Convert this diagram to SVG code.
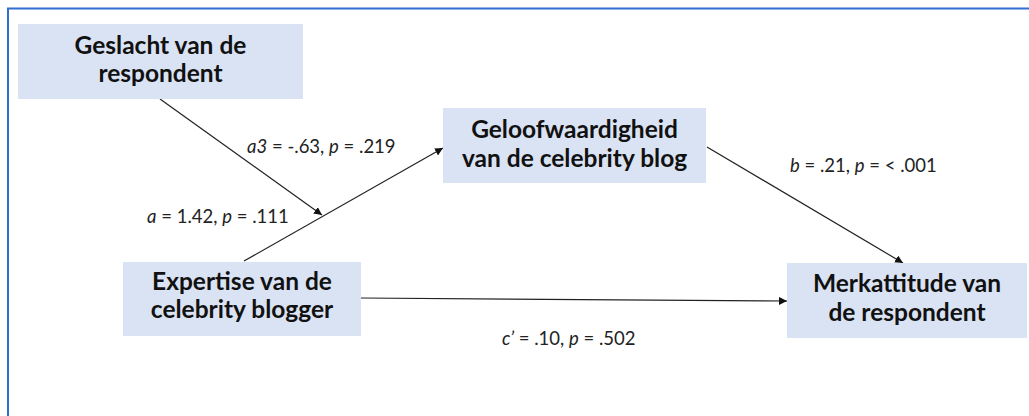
<svg xmlns="http://www.w3.org/2000/svg" width="1029" height="416" viewBox="0 0 1029 416">
<style>
.box{fill:#dae3f3}
.t{font-family:Lato,"Liberation Sans",sans-serif;font-weight:bold;font-size:24.5px;fill:#111;text-anchor:middle}
.l{font-family:Lato,"Liberation Sans",sans-serif;font-size:18.5px;fill:#222}
.i{font-style:italic}
.c{stroke:#222;stroke-width:1.2;fill:none;marker-end:url(#ah)}
</style>
<defs>
<marker id="ah" viewBox="0 0 10 10" refX="10" refY="5" markerWidth="8" markerHeight="8" markerUnits="userSpaceOnUse" orient="auto">
<path d="M0,0 L10,5 L0,10 z" fill="#111"/>
</marker>
</defs>
<rect width="1029" height="416" fill="#fff"/>
<path d="M8,416 V8.5 H1029" fill="none" stroke="#2f6fd0" stroke-width="2"/>
<g id="connectors">
<line class="c" x1="160" y1="99" x2="322" y2="215"/>
<line class="c" x1="244" y1="261" x2="443" y2="148"/>
<line class="c" x1="707" y1="147" x2="903" y2="263"/>
<line class="c" x1="361" y1="298" x2="787" y2="301"/>
</g>
<g id="geslacht">
<rect class="box" x="18" y="24" width="285" height="75"/>
<text class="t" x="160.5" y="54">Geslacht van de</text>
<text class="t" x="160.5" y="82">respondent</text>
</g>
<g id="geloofwaardigheid">
<rect class="box" x="443" y="108" width="263" height="75"/>
<text class="t" x="574.5" y="138">Geloofwaardigheid</text>
<text class="t" x="574.5" y="167">van de celebrity blog</text>
</g>
<g id="expertise">
<rect class="box" x="123" y="262" width="238" height="74"/>
<text class="t" x="242" y="290">Expertise van de</text>
<text class="t" x="242" y="318">celebrity blogger</text>
</g>
<g id="merkattitude">
<rect class="box" x="787" y="263" width="240" height="75"/>
<text class="t" x="907" y="292">Merkattitude van</text>
<text class="t" x="907" y="321">de respondent</text>
</g>
<g id="labels">
<text class="l" x="247" y="153"><tspan class="i">a3</tspan> = -.63, <tspan class="i">p</tspan> = .219</text>
<text class="l" x="147" y="223"><tspan class="i">a</tspan> = 1.42, <tspan class="i">p</tspan> = .111</text>
<text class="l" x="790" y="172"><tspan class="i">b</tspan> = .21, <tspan class="i">p</tspan> = &lt; .001</text>
<text class="l" x="502" y="345"><tspan class="i">c’</tspan> = .10, <tspan class="i">p</tspan> = .502</text>
</g>
</svg>
